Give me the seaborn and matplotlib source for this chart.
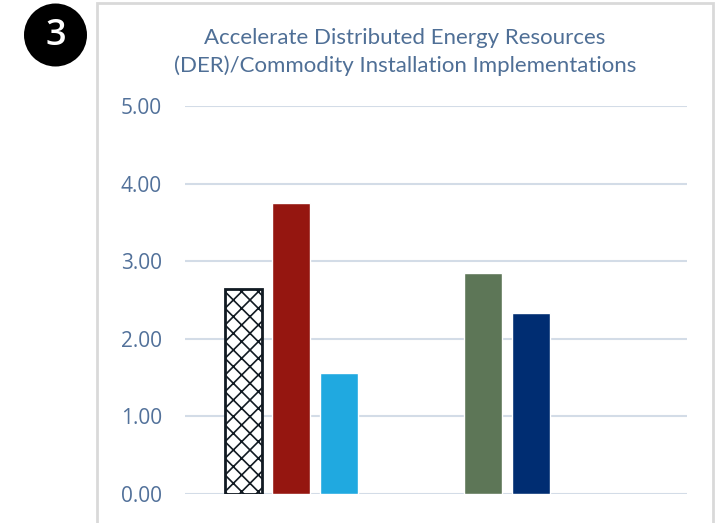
import numpy as np
import pandas as pd
import seaborn as sns
import matplotlib.pyplot as plt
from matplotlib.patches import Circle, Rectangle
from matplotlib.transforms import IdentityTransform

# Series values (slot order along the x axis; unused slots stay empty)
slots = ["s0", "s1", "s2", "s3", "s4", "s5", "s6", "s7", "s8"]
series = ["s0", "s1", "s2", "s5", "s6"]
values = [2.64, 3.75, 1.56, 2.85, 2.33]
colors = ["#FFFFFF", "#951610", "#20A9E0", "#5D7657", "#002D72"]
ytick_labels = ["0.00", "1.00", "2.00", "3.00", "4.00", "5.00"]
title = "Accelerate Distributed Energy Resources\n(DER)/Commodity Installation Implementations"

sns.set_theme(style="white")
plt.rcParams["font.family"] = ["Lato", "DejaVu Sans"]
plt.rcParams["hatch.linewidth"] = 1.2

W, H = 721, 523
fig = plt.figure(figsize=(W / 100, H / 100), dpi=100)

# panel frame
frame = Rectangle((97 / W, -0.05), (713 - 97) / W, (1 - 3 / H) + 0.05,
                  transform=fig.transFigure, fill=False,
                  edgecolor="#D9D9D9", linewidth=2)
fig.patches.append(frame)

# numbered badge (pixel coordinates, origin bottom-left)
badge = Circle((55.5, H - 35), 31.5, transform=IdentityTransform(),
               facecolor="black", edgecolor="none")
fig.patches.append(badge)
fig.text(56 / W, 1 - 36 / H, "3", color="white", fontsize=26,
         fontweight="semibold", ha="center", va="center",
         family=["Open Sans", "DejaVu Sans"])

ax = fig.add_axes([185 / W, 1 - 494 / H, (687 - 185) / W, (494 - 106) / H])

df = pd.DataFrame({"slot": series, "value": values})
sns.barplot(data=df, x="slot", y="value", order=slots, hue="slot",
            hue_order=series, palette=colors, width=0.79, legend=False,
            saturation=1, ax=ax)

# crosshatch on the first bar
first = ax.patches[0]
first.set_hatch("xx")
first.set_edgecolor("#111A22")
first.set_linewidth(2)

ax.set_xlim(-1.22, 9.26)
ax.set_ylim(0, 5)
ax.set_yticks(np.arange(len(ytick_labels)))
ax.set_yticklabels(ytick_labels, color="#52719A", fontsize=15,
                   family=["Open Sans", "DejaVu Sans"])
ax.tick_params(axis="y", length=0, pad=16.5)
ax.set_xticks([])
ax.set_xlabel("")
ax.set_ylabel("")
ax.yaxis.grid(True, color="#D3DCE7", linewidth=1.5)
ax.set_axisbelow(True)
for s in ax.spines.values():
    s.set_visible(False)

fig.text(405 / W, 1 - 52 / H, title, color="#4F6F96", fontsize=16,
         ha="center", va="center", linespacing=1.45)

fig.savefig("out.png", dpi=100)
